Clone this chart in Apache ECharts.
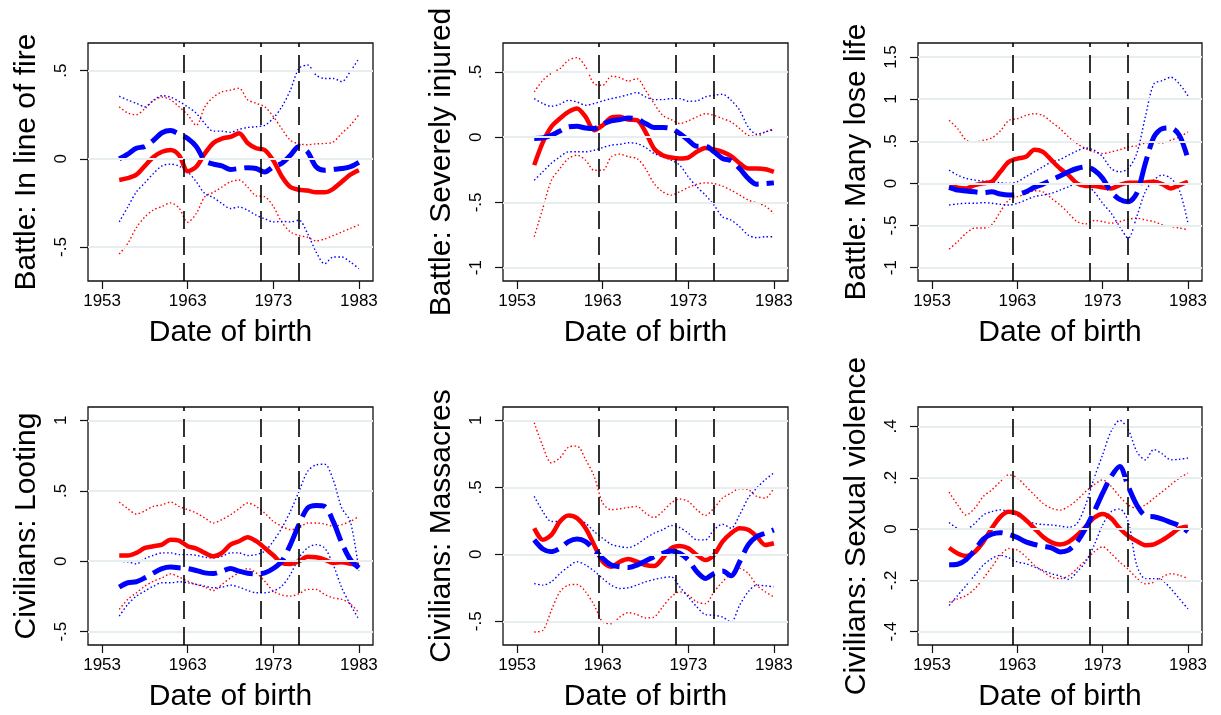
<!DOCTYPE html>
<html>
<head>
<meta charset="utf-8">
<script src="https://cdn.jsdelivr.net/npm/echarts@6/dist/echarts.min.js"></script>
<style>
html,body{margin:0;padding:0;background:#fff;}
#chart{width:1221px;height:715px;}
</style>
</head>
<body>
<div id="chart"></div>
<script>
var years = [1955,1956,1957,1958,1959,1960,1961,1962,1963,1964,1965,1966,1967,1968,1969,1970,1971,1972,1973,1974,1975,1976,1977,1978,1979,1980,1981,1982,1983];
var xTicks = [1953, 1963, 1973, 1983];
var xTickLabels = ["1953", "1963", "1973", "1983"];
var eventLines = [1962.5, 1971.5, 1976];
var panelTitles = ["Battle: In line of fire","Battle: Severely injured","Battle: Many lose life","Civilians: Looting","Civilians: Massacres","Civilians: Sexual violence"];
var xTitle = "Date of birth";

// Panel 1: Battle: In line of fire
var p1Ticks = [-0.5, 0, 0.5];
var p1TickLabels = ["-.5","0",".5"];
var p1RedMean  = [-0.12,-0.11,-0.09,-0.04,0.01,0.04,0.05,0.02,-0.07,-0.045,0.03,0.09,0.115,0.125,0.145,0.09,0.06,0.05,-0.01,-0.10,-0.16,-0.175,-0.18,-0.19,-0.19,-0.17,-0.13,-0.09,-0.065];
var p1RedUpper = [0.295,0.26,0.25,0.285,0.33,0.35,0.335,0.295,0.25,0.19,0.295,0.35,0.38,0.39,0.40,0.335,0.315,0.295,0.24,0.17,0.105,0.085,0.08,0.085,0.087,0.095,0.145,0.19,0.25];
var p1RedLower = [-0.54,-0.48,-0.39,-0.33,-0.29,-0.27,-0.25,-0.28,-0.36,-0.31,-0.215,-0.19,-0.16,-0.13,-0.12,-0.16,-0.21,-0.215,-0.27,-0.36,-0.415,-0.435,-0.445,-0.465,-0.455,-0.435,-0.415,-0.395,-0.375];
var p1BlueMean  = [0.0,0.027,0.06,0.07,0.105,0.148,0.16,0.14,0.115,0.07,-0.01,-0.03,-0.04,-0.06,-0.055,-0.05,-0.055,-0.075,-0.045,-0.025,0.02,0.07,0.04,-0.045,-0.065,-0.06,-0.055,-0.045,-0.02];
var p1BlueUpper = [0.355,0.333,0.315,0.295,0.333,0.358,0.35,0.325,0.295,0.258,0.2,0.157,0.157,0.15,0.167,0.178,0.182,0.19,0.23,0.295,0.39,0.513,0.532,0.475,0.456,0.456,0.438,0.495,0.57];
var p1BlueLower = [-0.358,-0.273,-0.188,-0.136,-0.083,-0.04,-0.03,-0.042,-0.074,-0.13,-0.197,-0.22,-0.254,-0.282,-0.273,-0.292,-0.32,-0.34,-0.358,-0.355,-0.358,-0.348,-0.424,-0.528,-0.595,-0.557,-0.557,-0.585,-0.623];

// Panel 2: Battle: Severely injured
var p2Ticks = [-1, -0.5, 0, 0.5];
var p2TickLabels = ["-1","-.5","0",".5"];
var p2RedMean  = [-0.214,-0.04,0.08,0.143,0.194,0.22,0.156,0.054,0.092,0.15,0.156,0.135,0.13,0.04,-0.087,-0.138,-0.156,-0.163,-0.156,-0.112,-0.082,-0.094,-0.112,-0.145,-0.2,-0.24,-0.24,-0.245,-0.265];
var p2RedUpper = [0.347,0.436,0.49,0.525,0.59,0.61,0.538,0.41,0.398,0.467,0.457,0.43,0.449,0.36,0.258,0.168,0.135,0.105,0.125,0.156,0.18,0.168,0.143,0.117,0.066,0.015,0.008,0.04,0.066];
var p2RedLower = [-0.763,-0.546,-0.33,-0.24,-0.163,-0.138,-0.176,-0.253,-0.253,-0.15,-0.13,-0.15,-0.163,-0.24,-0.355,-0.418,-0.444,-0.418,-0.385,-0.36,-0.35,-0.355,-0.375,-0.406,-0.444,-0.482,-0.503,-0.528,-0.584];
var p2BlueMean  = [-0.01,-0.005,0.015,0.048,0.08,0.084,0.07,0.066,0.1,0.125,0.135,0.148,0.138,0.105,0.074,0.074,0.066,0.028,-0.023,-0.069,-0.069,-0.112,-0.163,-0.18,-0.24,-0.316,-0.36,-0.355,-0.35];
var p2BlueUpper = [0.296,0.258,0.237,0.253,0.283,0.27,0.245,0.258,0.278,0.296,0.309,0.327,0.342,0.309,0.288,0.288,0.296,0.296,0.276,0.278,0.309,0.321,0.329,0.283,0.207,0.079,0.023,0.04,0.059];
var p2BlueLower = [-0.33,-0.265,-0.2,-0.15,-0.112,-0.112,-0.112,-0.1,-0.079,-0.061,-0.054,-0.043,-0.048,-0.079,-0.125,-0.15,-0.176,-0.214,-0.304,-0.38,-0.444,-0.52,-0.61,-0.635,-0.686,-0.75,-0.77,-0.763,-0.763];

// Panel 3: Battle: Many lose life
var p3Ticks = [-1, -0.5, 0, 0.5, 1, 1.5];
var p3TickLabels = ["-1","-.5","0",".5","1","1.5"];
var p3RedMean  = [-0.028,-0.05,-0.06,-0.02,0.0,0.02,0.138,0.256,0.295,0.315,0.4,0.375,0.275,0.177,0.098,0.0,-0.03,-0.03,-0.047,-0.06,-0.02,0.008,0.008,0.012,0.02,-0.008,-0.06,-0.02,0.02];
var p3RedUpper = [0.748,0.65,0.512,0.492,0.512,0.54,0.622,0.748,0.768,0.807,0.827,0.807,0.728,0.65,0.551,0.472,0.413,0.374,0.354,0.374,0.4,0.433,0.445,0.48,0.492,0.48,0.512,0.551,0.61];
var p3RedLower = [-0.78,-0.69,-0.59,-0.53,-0.53,-0.49,-0.335,-0.197,-0.157,-0.126,-0.087,-0.1,-0.177,-0.256,-0.354,-0.453,-0.48,-0.44,-0.453,-0.472,-0.453,-0.425,-0.413,-0.433,-0.453,-0.49,-0.51,-0.53,-0.55];
var p3BlueMean  = [-0.047,-0.08,-0.09,-0.1,-0.11,-0.1,-0.126,-0.138,-0.13,-0.1,-0.047,-0.008,0.04,0.087,0.138,0.177,0.197,0.157,0.06,-0.1,-0.19,-0.217,-0.118,0.236,0.55,0.65,0.657,0.57,0.295];
var p3BlueUpper = [0.157,0.098,0.06,0.04,0.028,0.02,0.008,0.0,0.02,0.08,0.138,0.197,0.256,0.283,0.335,0.386,0.42,0.394,0.315,0.177,0.138,0.177,0.354,0.787,1.18,1.22,1.26,1.18,1.04];
var p3BlueLower = [-0.256,-0.244,-0.236,-0.236,-0.228,-0.236,-0.248,-0.256,-0.236,-0.197,-0.157,-0.138,-0.118,-0.079,-0.04,0.0,-0.012,-0.1,-0.236,-0.354,-0.512,-0.65,-0.394,-0.098,0.04,0.098,0.06,-0.08,-0.47];

// Panel 4: Civilians: Looting
var p4Ticks = [-0.5, 0, 0.5, 1];
var p4TickLabels = ["-.5","0",".5","1"];
var p4RedMean  = [0.04,0.04,0.059,0.094,0.106,0.118,0.153,0.146,0.106,0.09,0.059,0.035,0.059,0.118,0.142,0.17,0.142,0.094,0.042,-0.012,-0.019,0.0,0.031,0.028,0.012,-0.012,-0.007,-0.019,-0.028];
var p4RedUpper = [0.42,0.373,0.335,0.358,0.389,0.4,0.42,0.389,0.366,0.342,0.307,0.271,0.295,0.33,0.373,0.413,0.389,0.342,0.283,0.248,0.224,0.236,0.271,0.271,0.264,0.248,0.26,0.283,0.318];
var p4RedLower = [-0.342,-0.271,-0.224,-0.177,-0.142,-0.118,-0.09,-0.113,-0.142,-0.165,-0.184,-0.208,-0.165,-0.118,-0.083,-0.052,-0.083,-0.142,-0.212,-0.24,-0.248,-0.231,-0.2,-0.2,-0.236,-0.26,-0.271,-0.302,-0.366];
var p4BlueMean  = [-0.184,-0.153,-0.146,-0.118,-0.083,-0.052,-0.042,-0.047,-0.052,-0.066,-0.083,-0.087,-0.071,-0.052,-0.071,-0.085,-0.09,-0.083,-0.052,0.0,0.118,0.26,0.377,0.396,0.389,0.283,0.13,0.012,-0.047];
var p4BlueUpper = [0.0,-0.005,-0.019,0.019,0.042,0.059,0.059,0.047,0.047,0.042,0.028,0.024,0.035,0.059,0.059,0.04,0.047,0.071,0.142,0.236,0.354,0.495,0.637,0.684,0.689,0.578,0.377,0.283,-0.066];
var p4BlueLower = [-0.39,-0.307,-0.248,-0.212,-0.177,-0.153,-0.153,-0.146,-0.153,-0.165,-0.177,-0.189,-0.184,-0.17,-0.184,-0.208,-0.224,-0.224,-0.212,-0.177,-0.094,0.024,0.094,0.118,0.094,-0.024,-0.189,-0.307,-0.413];

// Panel 5: Civilians: Massacres
var p5Ticks = [-0.5, 0, 0.5, 1];
var p5TickLabels = ["-.5","0",".5","1"];
var p5RedMean  = [0.195,0.108,0.145,0.245,0.29,0.27,0.195,0.07,-0.055,-0.093,-0.055,-0.035,-0.055,-0.08,-0.088,-0.03,0.045,0.062,0.045,-0.005,-0.043,-0.005,0.095,0.158,0.195,0.183,0.133,0.07,0.083];
var p5RedUpper = [0.983,0.808,0.683,0.72,0.8,0.808,0.708,0.583,0.383,0.333,0.34,0.35,0.358,0.308,0.275,0.32,0.383,0.413,0.395,0.333,0.29,0.345,0.42,0.458,0.49,0.483,0.433,0.42,0.495];
var p5RedLower = [-0.58,-0.568,-0.418,-0.28,-0.23,-0.225,-0.28,-0.38,-0.505,-0.518,-0.468,-0.435,-0.45,-0.475,-0.468,-0.393,-0.318,-0.28,-0.305,-0.355,-0.368,-0.28,-0.205,-0.143,-0.105,-0.143,-0.23,-0.28,-0.318];
var p5BlueMean  = [0.108,0.04,0.02,0.045,0.095,0.115,0.095,0.033,-0.03,-0.08,-0.093,-0.098,-0.08,-0.05,-0.018,0.008,0.025,0.008,-0.043,-0.13,-0.18,-0.143,-0.125,-0.16,-0.055,0.07,0.133,0.158,0.183];
var p5BlueUpper = [0.433,0.32,0.245,0.245,0.283,0.27,0.233,0.17,0.12,0.075,0.058,0.05,0.075,0.12,0.158,0.183,0.215,0.2,0.158,0.108,0.108,0.183,0.225,0.195,0.295,0.42,0.495,0.558,0.608];
var p5BlueLower = [-0.218,-0.23,-0.205,-0.143,-0.093,-0.055,-0.08,-0.125,-0.18,-0.23,-0.255,-0.25,-0.23,-0.205,-0.188,-0.175,-0.168,-0.243,-0.318,-0.393,-0.45,-0.455,-0.468,-0.505,-0.38,-0.28,-0.23,-0.235,-0.243];

// Panel 6: Civilians: Sexual violence
var p6Ticks = [-0.4, -0.2, 0, 0.2, 0.4];
var p6TickLabels = ["-.4","-.2","0",".2",".4"];
var p6RedMean  = [-0.073,-0.095,-0.105,-0.089,-0.05,0.003,0.048,0.068,0.061,0.035,0.003,-0.03,-0.052,-0.06,-0.05,-0.024,0.009,0.044,0.059,0.042,0.003,-0.027,-0.047,-0.063,-0.06,-0.043,-0.021,0.003,0.009];
var p6RedUpper = [0.144,0.094,0.055,0.081,0.127,0.153,0.185,0.212,0.199,0.166,0.133,0.1,0.081,0.074,0.088,0.114,0.146,0.173,0.192,0.166,0.127,0.094,0.081,0.094,0.12,0.146,0.173,0.199,0.218];
var p6RedLower = [-0.285,-0.272,-0.259,-0.233,-0.193,-0.148,-0.102,-0.076,-0.082,-0.108,-0.141,-0.165,-0.187,-0.193,-0.183,-0.154,-0.122,-0.089,-0.069,-0.095,-0.128,-0.157,-0.191,-0.213,-0.207,-0.187,-0.174,-0.18,-0.193];
var p6BlueMean  = [-0.139,-0.137,-0.119,-0.082,-0.039,-0.02,-0.014,-0.021,-0.033,-0.05,-0.06,-0.067,-0.073,-0.089,-0.082,-0.05,0.003,0.068,0.14,0.205,0.244,0.166,0.094,0.052,0.048,0.039,0.026,0.013,-0.01];
var p6BlueUpper = [0.026,0.003,0.0,0.022,0.055,0.068,0.075,0.068,0.052,0.035,0.022,0.018,0.016,0.012,0.007,0.022,0.094,0.199,0.29,0.382,0.424,0.388,0.303,0.27,0.31,0.293,0.27,0.272,0.277];
var p6BlueLower = [-0.298,-0.259,-0.22,-0.18,-0.141,-0.115,-0.102,-0.112,-0.128,-0.135,-0.148,-0.161,-0.174,-0.183,-0.196,-0.167,-0.128,-0.063,0.016,0.068,0.078,0.029,-0.141,-0.193,-0.193,-0.2,-0.233,-0.272,-0.311];

var panels = [
  {ticks:p1Ticks, labels:p1TickLabels, rm:p1RedMean, ru:p1RedUpper, rl:p1RedLower, bm:p1BlueMean, bu:p1BlueUpper, bl:p1BlueLower, ymin:-0.693, ymax:0.657},
  {ticks:p2Ticks, labels:p2TickLabels, rm:p2RedMean, ru:p2RedUpper, rl:p2RedLower, bm:p2BlueMean, bu:p2BlueUpper, bl:p2BlueLower, ymin:-1.102, ymax:0.722},
  {ticks:p3Ticks, labels:p3TickLabels, rm:p3RedMean, ru:p3RedUpper, rl:p3RedLower, bm:p3BlueMean, bu:p3BlueUpper, bl:p3BlueLower, ymin:-1.158, ymax:1.666},
  {ticks:p4Ticks, labels:p4TickLabels, rm:p4RedMean, ru:p4RedUpper, rl:p4RedLower, bm:p4BlueMean, bu:p4BlueUpper, bl:p4BlueLower, ymin:-0.595, ymax:1.095},
  {ticks:p5Ticks, labels:p5TickLabels, rm:p5RedMean, ru:p5RedUpper, rl:p5RedLower, bm:p5BlueMean, bu:p5BlueUpper, bl:p5BlueLower, ymin:-0.677, ymax:1.10},
  {ticks:p6Ticks, labels:p6TickLabels, rm:p6RedMean, ru:p6RedUpper, rl:p6RedLower, bm:p6BlueMean, bu:p6BlueUpper, bl:p6BlueLower, ymin:-0.452, ymax:0.476}
];

var gridBoxes = [
  {left:88, top:43, width:285, height:238},
  {left:503, top:43, width:285, height:238},
  {left:918, top:43, width:284, height:238},
  {left:88, top:407, width:285, height:238},
  {left:503, top:407, width:285, height:238},
  {left:918, top:407, width:284, height:238}
];

var FONT = "'Liberation Sans', Arial, Helvetica, sans-serif";
var RED = '#ff0000', BLUE = '#0000ff';

function pairs(vals){ return years.map(function(y,i){ return [y, vals[i]]; }); }
function labelFor(ticks, labels){
  return function(v){
    for (var i = 0; i < ticks.length; i++) { if (Math.abs(ticks[i] - v) < 1e-6) return labels[i]; }
    return '';
  };
}

var grids = [], xAxes = [], yAxes = [], series = [];
panels.forEach(function(p, k){
  var g = gridBoxes[k];
  grids.push({left:g.left, top:g.top, width:g.width, height:g.height, show:true, borderColor:'#111', borderWidth:1.3, backgroundColor:'#fff', containLabel:false});
  xAxes.push({
    type:'value', gridIndex:k, min:1951.35, max:1984.65,
    name:xTitle, nameLocation:'middle', nameGap:37,
    nameTextStyle:{fontFamily:FONT, fontSize:30, color:'#000'},
    axisLine:{show:false, onZero:false},
    axisTick:{show:true, length:8, inside:false, customValues:xTicks, lineStyle:{color:'#111', width:1.2}},
    axisLabel:{show:true, customValues:xTicks, margin:12, fontFamily:FONT, fontSize:17, color:'#000',
      formatter:labelFor(xTicks, xTickLabels)},
    splitLine:{show:false}
  });
  yAxes.push({
    type:'value', gridIndex:k, min:p.ymin, max:p.ymax,
    name:panelTitles[k], nameLocation:'middle', nameGap:46, nameRotate:90,
    nameTextStyle:{fontFamily:FONT, fontSize:30, color:'#000'},
    axisLine:{show:false, onZero:false},
    axisTick:{show:true, length:8, inside:false, customValues:p.ticks, lineStyle:{color:'#111', width:1.2}},
    axisLabel:{show:true, customValues:p.ticks, rotate:90, margin:18, fontFamily:FONT, fontSize:17, color:'#000',
      formatter:labelFor(p.ticks, p.labels)},
    splitLine:{show:false}
  });
  // gridlines holder
  series.push({
    type:'line', xAxisIndex:k, yAxisIndex:k, data:[], z:1, silent:true,
    markLine:{silent:true, symbol:['none','none'], label:{show:false}, animation:false,
      lineStyle:{color:'#e6eef0', width:1.8, type:'solid'},
      emphasis:{disabled:true},
      data:p.ticks.map(function(v){ return {yAxis:v}; })}
  });
  var dotted = [1.5, 2.4];
  [[p.ru, RED],[p.rl, RED],[p.bu, BLUE],[p.bl, BLUE]].forEach(function(s){
    series.push({type:'line', xAxisIndex:k, yAxisIndex:k, data:pairs(s[0]), showSymbol:false, symbol:'none', smooth:0.3, z:2, silent:true,
      lineStyle:{color:s[1], width:1.4, type:dotted}});
  });
  series.push({type:'line', xAxisIndex:k, yAxisIndex:k, data:pairs(p.rm), showSymbol:false, symbol:'none', smooth:0.3, z:3, silent:true,
    lineStyle:{color:RED, width:4.5, type:'solid'}});
  series.push({type:'line', xAxisIndex:k, yAxisIndex:k, data:pairs(p.bm), showSymbol:false, symbol:'none', smooth:0.3, z:4, silent:true,
    lineStyle:{color:BLUE, width:5, type:[29, 8]}});
  // vertical event lines
  series.push({
    type:'line', xAxisIndex:k, yAxisIndex:k, data:[], z:5, silent:true,
    markLine:{silent:true, symbol:['none','none'], label:{show:false}, animation:false,
      lineStyle:{color:'#000', width:1.6, type:[18, 8]},
      emphasis:{disabled:true},
      data:eventLines.map(function(v){ return {xAxis:v}; })}
  });
});

var chart = echarts.init(document.getElementById('chart'), null, {renderer:'canvas'});
chart.setOption({
  animation:false,
  backgroundColor:'#ffffff',
  textStyle:{fontFamily:FONT},
  grid:grids, xAxis:xAxes, yAxis:yAxes, series:series
});
</script>
</body>
</html>
